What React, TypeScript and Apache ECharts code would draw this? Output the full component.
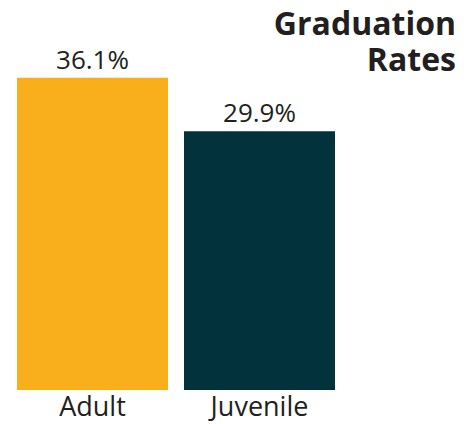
import React, { useEffect, useRef } from "react";
import * as echarts from "echarts";

const categories = ["Adult", "Juvenile"];
const values = [36.1, 29.9];
const barColors = ["#F9AE1B", "#02323B"];
const titleText = "Graduation\nRates";

export default function App() {
  const ref = useRef<HTMLDivElement>(null);
  useEffect(() => {
    if (!ref.current) return;
    const chart = echarts.init(ref.current, null, { renderer: "svg" });
    chart.setOption({
      animation: false,
      backgroundColor: "#ffffff",
      graphic: [
        {
          type: "text",
          x: 456,
          y: 4,
          style: {
            text: titleText,
            font: "bold 32px 'Open Sans'",
            fill: "#231f20",
            align: "right",
            verticalAlign: "top",
            lineHeight: 36,
          },
        },
      ],
      grid: { left: 9, right: 129, top: 44, bottom: 34 },
      xAxis: {
        type: "category",
        data: categories,
        axisLine: { show: false },
        axisTick: { show: false },
        axisLabel: {
          margin: 2,
          fontFamily: "Open Sans",
          fontSize: 27,
          color: "#231f20",
        },
      },
      yAxis: {
        type: "value",
        min: 0,
        max: 40,
        show: false,
        splitLine: { show: false },
      },
      series: [
        {
          type: "bar",
          barWidth: 151,
          data: values.map((v, i) => ({ value: v, itemStyle: { color: barColors[i] } })),
          label: {
            show: true,
            position: "top",
            distance: 6,
            formatter: (p: any) => p.value.toFixed(1) + "%",
            fontFamily: "Open Sans",
            fontSize: 26,
            color: "#231f20",
          },
        },
      ],
    });
    return () => chart.dispose();
  }, []);
  return (
    <div
      ref={ref}
      style={{ position: "fixed", left: 0, top: 0, width: 472, height: 424 }}
    />
  );
}
